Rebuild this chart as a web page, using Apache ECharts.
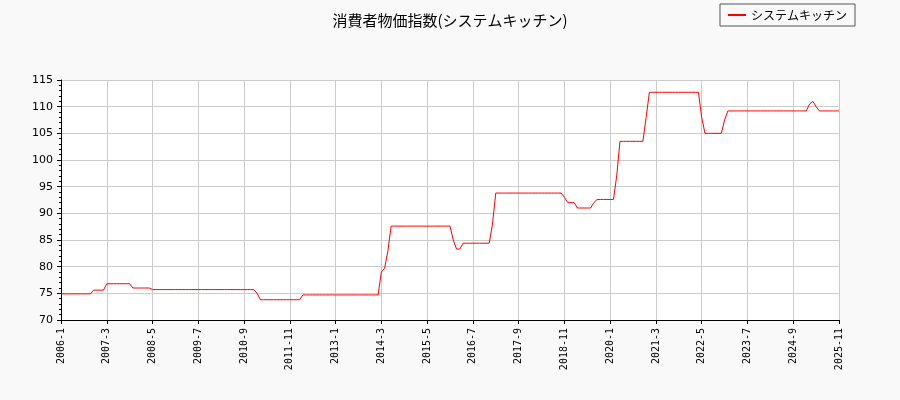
<!DOCTYPE html>
<html>
<head>
<meta charset="utf-8">
<script src="https://cdn.jsdelivr.net/npm/echarts@6/dist/echarts.min.js"></script>
<style>html,body{margin:0;background:#f9f9f9}#main{width:900px;height:400px}</style>
</head>
<body>
<div id="main"></div>
<script>
var startYear = 2006, months = 239;
var values = [
  74.9,74.9,74.9,74.9,74.9,74.9,74.9,74.9,74.9,74.9,75.6,75.6,
  75.6,75.6,76.8,76.8,76.8,76.8,76.8,76.8,76.8,76.8,76.0,76.0,
  76.0,76.0,76.0,76.0,75.7,75.7,75.7,75.7,75.7,75.7,75.7,75.7,
  75.7,75.7,75.7,75.7,75.7,75.7,75.7,75.7,75.7,75.7,75.7,75.7,
  75.7,75.7,75.7,75.7,75.7,75.7,75.7,75.7,75.7,75.7,75.7,75.7,
  75.0,73.8,73.8,73.8,73.8,73.8,73.8,73.8,73.8,73.8,73.8,73.8,
  73.8,73.8,74.7,74.7,74.7,74.7,74.7,74.7,74.7,74.7,74.7,74.7,
  74.7,74.7,74.7,74.7,74.7,74.7,74.7,74.7,74.7,74.7,74.7,74.7,
  74.7,74.7,79.0,79.7,83.0,87.6,87.6,87.6,87.6,87.6,87.6,87.6,
  87.6,87.6,87.6,87.6,87.6,87.6,87.6,87.6,87.6,87.6,87.6,87.6,
  85.0,83.3,83.3,84.4,84.4,84.4,84.4,84.4,84.4,84.4,84.4,84.4,
  88.0,93.8,93.8,93.8,93.8,93.8,93.8,93.8,93.8,93.8,93.8,93.8,
  93.8,93.8,93.8,93.8,93.8,93.8,93.8,93.8,93.8,93.8,93.0,92.0,
  92.0,92.0,91.0,91.0,91.0,91.0,91.0,92.0,92.6,92.6,92.6,92.6,
  92.6,92.6,97.0,103.5,103.5,103.5,103.5,103.5,103.5,103.5,103.5,108.0,
  112.7,112.7,112.7,112.7,112.7,112.7,112.7,112.7,112.7,112.7,112.7,112.7,
  112.7,112.7,112.7,112.7,108.0,105.0,105.0,105.0,105.0,105.0,105.0,107.5,
  109.2,109.2,109.2,109.2,109.2,109.2,109.2,109.2,109.2,109.2,109.2,109.2,
  109.2,109.2,109.2,109.2,109.2,109.2,109.2,109.2,109.2,109.2,109.2,109.2,
  109.2,110.5,111.0,110.0,109.2,109.2,109.2,109.2,109.2,109.2,109.2
];
var categories = [];
for (var i = 0; i < months; i++) {
  categories.push((startYear + Math.floor(i / 12)) + '-' + (i % 12 + 1));
}

var chart = echarts.init(document.getElementById('main'));
chart.setOption({
  backgroundColor: '#f9f9f9',
  animation: false,
  title: {
    text: '消費者物価指数(システムキッチン)',
    left: 'center', top: 8,
    textStyle: {fontSize: 15, fontWeight: 'normal', color: '#000', fontFamily: 'Noto Sans CJK JP'}
  },
  legend: {
    right: 45, top: 4,
    borderColor: '#555', borderWidth: 1, borderRadius: 0,
    padding: [5, 8], itemWidth: 18, itemHeight: 2,
    icon: 'rect',
    textStyle: {fontSize: 12, color: '#000', fontFamily: 'Noto Sans CJK JP'},
    data: ['システムキッチン']
  },
  grid: {left: 61, right: 61, top: 80, bottom: 80, show: true, backgroundColor: '#fff', borderWidth: 0},
  xAxis: {
    type: 'category', data: categories, boundaryGap: false,
    axisLine: {lineStyle: {color: '#000'}},
    axisTick: {interval: 13, length: 4, lineStyle: {color: '#000'}},
    axisLabel: {interval: 13, rotate: 90, fontSize: 10, color: '#000', fontFamily: 'DejaVu Sans Mono'},
    splitLine: {show: true, interval: 13, lineStyle: {color: '#ccc'}}
  },
  yAxis: {
    type: 'value', min: 70, max: 115, interval: 5,
    axisLine: {show: true, lineStyle: {color: '#000'}},
    axisTick: {show: true, length: 4, lineStyle: {color: '#000'}},
    minorTick: {show: true, splitNumber: 5, length: 2, lineStyle: {color: '#000'}},
    axisLabel: {fontSize: 11, color: '#000', fontFamily: 'DejaVu Sans'},
    splitLine: {lineStyle: {color: '#ccc'}}
  },
  series: [{
    name: 'システムキッチン', type: 'line', data: values,
    showSymbol: false, color: '#ff0000',
    lineStyle: {width: 1}
  }]
});
</script>
</body>
</html>
